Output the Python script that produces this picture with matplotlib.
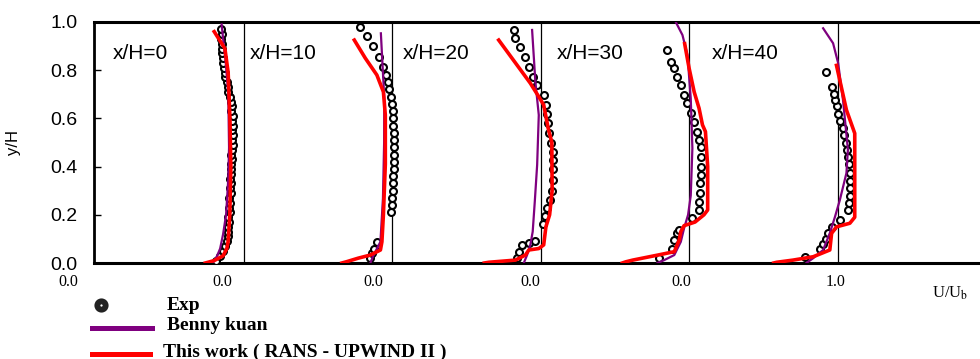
import matplotlib
matplotlib.use("Agg")
import matplotlib.pyplot as plt
from matplotlib.lines import Line2D

plt.rcParams['font.family'] = ['Liberation Sans', 'DejaVu Sans']
plt.rcParams['mathtext.fontset'] = 'stix'

# stations and labels
stations = ['x/H=0', 'x/H=10', 'x/H=20', 'x/H=30', 'x/H=40']
label_dx = [0.118, 0.041, 0.072, 0.11, 0.154]

# experiment (y/H, U/Ub) per station
exp_y0 = [0.01, 0.03, 0.05, 0.07, 0.09, 0.11, 0.13, 0.15, 0.17, 0.19, 0.21, 0.23, 0.25,
          0.27, 0.29, 0.31, 0.33, 0.35, 0.37, 0.39, 0.41, 0.43, 0.45, 0.47, 0.49, 0.51,
          0.53, 0.55, 0.57, 0.59, 0.61, 0.63, 0.65, 0.67, 0.69, 0.71, 0.73, 0.75, 0.77,
          0.79, 0.81, 0.83, 0.85, 0.87, 0.89, 0.91, 0.93, 0.95, 0.97]
exp_u0 = [0.81, 0.84, 0.86, 0.875, 0.885, 0.89, 0.895, 0.89, 0.90, 0.895, 0.905, 0.90, 0.905,
          0.90, 0.91, 0.905, 0.91, 0.905, 0.91, 0.915, 0.91, 0.92, 0.915, 0.92, 0.925, 0.92,
          0.925, 0.92, 0.925, 0.92, 0.925, 0.915, 0.92, 0.91, 0.905, 0.895, 0.89, 0.885, 0.875,
          0.87, 0.865, 0.86, 0.86, 0.855, 0.85, 0.85, 0.845, 0.85, 0.845]
exp_y1 = [0.02, 0.04, 0.06, 0.088, 0.21, 0.24, 0.27, 0.30, 0.33, 0.36, 0.39, 0.42, 0.45,
          0.48, 0.51, 0.54, 0.57, 0.60, 0.63, 0.66, 0.69, 0.72, 0.75, 0.78, 0.815, 0.856,
          0.90, 0.94, 0.98]
exp_u1 = [0.85, 0.86, 0.874, 0.896, 0.99, 0.995, 1.0, 1.004, 1.006, 1.008, 1.009, 1.01, 1.01,
          1.01, 1.01, 1.009, 1.008, 1.006, 1.004, 1.0, 0.99, 0.98, 0.97, 0.955, 0.94, 0.908,
          0.87, 0.83, 0.78]
exp_y2 = [0.02, 0.047, 0.075, 0.084, 0.091, 0.16, 0.195, 0.228, 0.261, 0.30, 0.344, 0.39,
          0.427, 0.46, 0.50, 0.54, 0.58, 0.62, 0.656, 0.697, 0.739, 0.773, 0.815, 0.856,
          0.898, 0.935, 0.967]
exp_u2 = [0.84, 0.854, 0.875, 0.92, 0.964, 1.015, 1.03, 1.045, 1.065, 1.075, 1.085, 1.085,
          1.085, 1.08, 1.07, 1.058, 1.05, 1.045, 1.038, 1.02, 0.976, 0.946, 0.919, 0.897,
          0.863, 0.825, 0.818]
exp_y3 = [0.02, 0.06, 0.095, 0.123, 0.137, 0.185, 0.22, 0.255, 0.29, 0.33, 0.365, 0.40,
          0.44, 0.48, 0.51, 0.545, 0.586, 0.621, 0.663, 0.697, 0.739, 0.773, 0.808, 0.835,
          0.884]
exp_u3 = [0.80, 0.888, 0.90, 0.921, 0.933, 1.022, 1.067, 1.067, 1.07, 1.07, 1.079, 1.079,
          1.079, 1.079, 1.067, 1.056, 1.034, 1.011, 0.989, 0.966, 0.944, 0.921, 0.90, 0.877,
          0.854]
exp_y4 = [0.026, 0.06, 0.08, 0.10, 0.124, 0.15, 0.178, 0.22, 0.25, 0.28, 0.31, 0.34, 0.373,
          0.41, 0.44, 0.47, 0.50, 0.53, 0.56, 0.59, 0.62, 0.65, 0.676, 0.70, 0.73, 0.794]
exp_u4 = [0.78, 0.88, 0.905, 0.92, 0.937, 0.96, 1.015, 1.072, 1.08, 1.083, 1.083, 1.083, 1.083,
          1.078, 1.072, 1.065, 1.055, 1.045, 1.035, 1.02, 1.004, 0.995, 0.982, 0.975, 0.96, 0.92]

# Benny kuan
kuan_y0 = [0.0, 0.03, 0.06, 0.12, 0.2, 0.35, 0.48, 0.7, 0.85, 0.93, 0.99]
kuan_u0 = [0.79, 0.82, 0.84, 0.86, 0.88, 0.895, 0.9, 0.895, 0.875, 0.86, 0.85]
kuan_y1 = [0.0, 0.033, 0.088, 0.268, 0.5, 0.683, 0.953]
kuan_u1 = [0.852, 0.874, 0.92, 0.937, 0.945, 0.946, 0.923]
kuan_y2 = [0.0, 0.033, 0.075, 0.13, 0.254, 0.407, 0.614, 0.752, 0.967]
kuan_u2 = [0.886, 0.908, 0.93, 0.946, 0.96, 0.976, 0.987, 0.964, 0.942]
kuan_y3 = [0.0, 0.012, 0.033, 0.088, 0.144, 0.2, 0.28, 0.476, 0.683, 0.863, 0.946, 1.0]
kuan_u3 = [0.787, 0.832, 0.9, 0.944, 0.966, 0.993, 1.011, 1.022, 1.011, 0.989, 0.955, 0.91]
kuan_y4 = [0.0, 0.02, 0.054, 0.124, 0.19, 0.26, 0.373, 0.47, 0.676, 0.83, 0.912, 0.974]
kuan_u4 = [0.79, 0.836, 0.903, 0.948, 0.982, 1.015, 1.06, 1.07, 1.037, 1.004, 0.97, 0.903]

# This work (RANS - UPWIND II)
rans_y0 = [0.0, 0.01, 0.03, 0.06, 0.09, 0.2, 0.4, 0.6, 0.79, 0.89, 0.96]
rans_u0 = [0.74, 0.80, 0.86, 0.885, 0.894, 0.905, 0.912, 0.906, 0.894, 0.872, 0.80]
rans_y1 = [0.0, 0.005, 0.02, 0.033, 0.054, 0.088, 0.2, 0.41, 0.614, 0.71, 0.78, 0.85, 0.925]
rans_u1 = [0.66, 0.69, 0.77, 0.852, 0.92, 0.93, 0.94, 0.953, 0.953, 0.94, 0.896, 0.818, 0.744]
rans_y2 = [0.0, 0.003, 0.012, 0.033, 0.054, 0.06, 0.075, 0.15, 0.2, 0.3, 0.5, 0.56, 0.656,
           0.69, 0.746, 0.925]
rans_u2 = [0.62, 0.65, 0.83, 0.897, 0.92, 0.987, 1.02, 1.035, 1.06, 1.077, 1.075, 1.05, 1.02,
           0.987, 0.93, 0.717]
rans_y3 = [0.0, 0.005, 0.012, 0.033, 0.047, 0.095, 0.13, 0.155, 0.17, 0.2, 0.22, 0.4, 0.545,
           0.573, 0.642, 0.71, 0.808, 0.91]
rans_u3 = [0.55, 0.574, 0.62, 0.79, 0.9, 0.933, 0.944, 0.966, 1.04, 1.10, 1.125, 1.125, 1.11,
           1.09, 1.067, 1.034, 1.0, 0.97]
rans_y4 = [0.0, 0.003, 0.012, 0.026, 0.054, 0.123, 0.15, 0.165, 0.19, 0.538, 0.635, 0.82]
rans_u4 = [0.57, 0.59, 0.7, 0.836, 0.948, 0.96, 0.993, 1.083, 1.116, 1.116, 1.06, 0.993]

exp_y = [exp_y0, exp_y1, exp_y2, exp_y3, exp_y4]
exp_u = [exp_u0, exp_u1, exp_u2, exp_u3, exp_u4]
kuan_y = [kuan_y0, kuan_y1, kuan_y2, kuan_y3, kuan_y4]
kuan_u = [kuan_u0, kuan_u1, kuan_u2, kuan_u3, kuan_u4]
rans_y = [rans_y0, rans_y1, rans_y2, rans_y3, rans_y4]
rans_u = [rans_u0, rans_u1, rans_u2, rans_u3, rans_u4]

# odd bottom labels of the original
xlab_pos = [-0.185, 0.852, 1.87, 2.93, 3.95, 4.99]
xlab_txt = ['0.0', '0.0', '0.0', '0.0', '0.0', '1.0']

W, H = 980, 359
fig = plt.figure(figsize=(9.8, 3.59), dpi=100)
ax = fig.add_axes([94 / W, 1 - 263 / H, 886 / W, 241 / H])

purple = '#7f007f'
red = '#ff0000'

for k in range(5):
    ax.plot([k + u for u in exp_u[k]], exp_y[k], 'o', ms=5, mfc='white', mec='black',
            mew=1.5, zorder=3)
    ax.plot([k + u for u in kuan_u[k]], kuan_y[k], color=purple, lw=1.6, zorder=4)
    ax.plot([k + u for u in rans_u[k]], rans_y[k], color=red, lw=2.6, zorder=5)
    ax.axvline(k + 1, color='black', lw=0.9, zorder=2)
    ax.text(k + label_dx[k], 0.87, stations[k], fontsize=15, va='center', ha='left')

ax.set_xlim(-0.01, 5.96)
ax.set_ylim(0, 1)
ax.set_xticks([])
ax.set_yticks([0.0, 0.2, 0.4, 0.6, 0.8, 1.0])
ax.set_yticklabels(['0.0', '0.2', '0.4', '0.6', '0.8', '1.0'])
ax.tick_params(axis='y', direction='in', length=5, width=1, labelsize=14, pad=12)
for s in ['top', 'bottom']:
    ax.spines[s].set_linewidth(2.2)
ax.spines['left'].set_linewidth(2.0)
ax.spines['right'].set_visible(False)
ax.set_ylabel('y/H', fontsize=12)
ax.yaxis.set_label_coords((21 - 94) / 886, 0.5)

for p, t in zip(xlab_pos, xlab_txt):
    ax.text(p, -0.08, t, transform=ax.get_xaxis_transform(), fontsize=11.5,
            family='Liberation Serif', ha='center', va='center', clip_on=False)

fig.text(932 / W, 1 - 293 / H, r'U/U$_\mathrm{b}$', fontsize=12, family='Liberation Serif',
         va='center', ha='left')

# legend drawn by hand below the plot
fig.add_artist(Line2D([101 / W], [1 - 305 / H], marker='o', ms=6, mfc='white', mec='#222222',
                      mew=4.2, transform=fig.transFigure))
fig.add_artist(Line2D([92 / W, 152 / W], [1 - 328 / H] * 2, color=purple, lw=3.6,
                      transform=fig.transFigure))
fig.add_artist(Line2D([92 / W, 150 / W], [1 - 354 / H] * 2, color=red, lw=3.6,
                      transform=fig.transFigure))
leg_font = dict(family='Liberation Serif', fontweight='bold', fontsize=14, va='center', ha='left')
fig.text(167 / W, 1 - 305 / H, 'Exp', **leg_font)
fig.text(167 / W, 1 - 326 / H, 'Benny kuan', **leg_font)
fig.text(163 / W, 1 - 352 / H, 'This work ( RANS - UPWIND II )', **leg_font)

fig.savefig('out.png', dpi=100)
